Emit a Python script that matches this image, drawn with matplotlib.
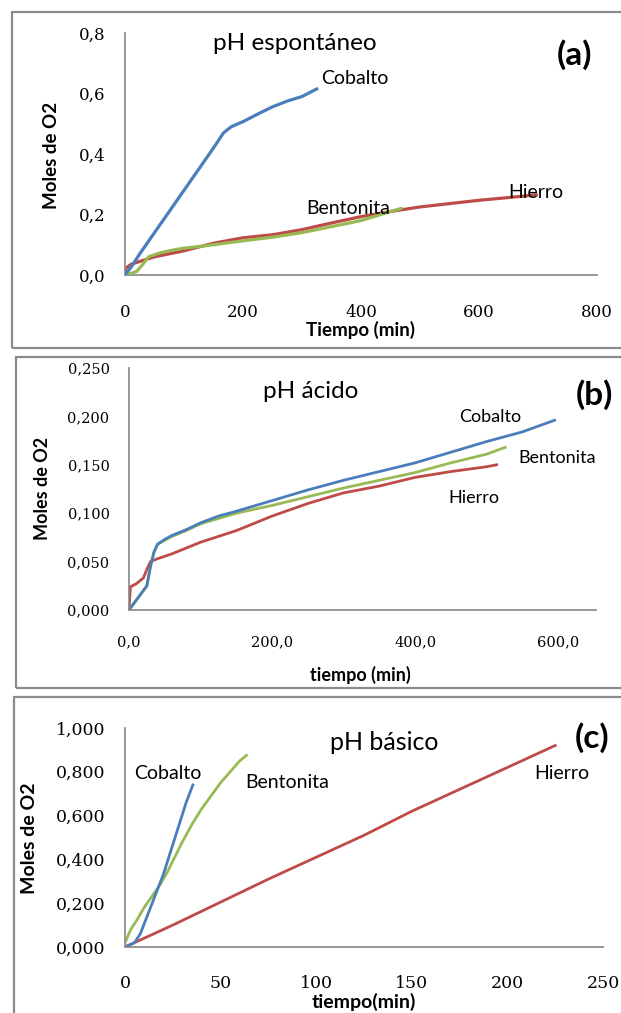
import matplotlib
matplotlib.use('Agg')
import matplotlib.pyplot as plt
from matplotlib.patches import Rectangle

# --- datos ---
# (a) pH espontaneo
co_a_t = [0, 10, 25, 50, 75, 100, 125, 150, 167, 180, 200, 225, 250, 275, 300, 325]
co_a_m = [0.0, 0.025, 0.07, 0.14, 0.21, 0.28, 0.35, 0.42, 0.47, 0.49, 0.507, 0.532, 0.556, 0.575, 0.59, 0.615]
hi_a_t = [0, 1, 10, 25, 50, 100, 150, 200, 250, 300, 350, 400, 450, 500, 550, 600, 650, 697]
hi_a_m = [0.0, 0.022, 0.035, 0.045, 0.06, 0.08, 0.105, 0.123, 0.133, 0.15, 0.172, 0.193, 0.21, 0.225, 0.236, 0.247, 0.256, 0.265]
be_a_t = [0, 10, 20, 30, 40, 57, 75, 97, 125, 150, 200, 250, 300, 350, 400, 450, 468]
be_a_m = [0.0, 0.005, 0.012, 0.035, 0.06, 0.072, 0.08, 0.088, 0.094, 0.1, 0.113, 0.125, 0.14, 0.16, 0.18, 0.21, 0.22]

# (b) pH acido
co_b_t = [0, 10, 20, 25, 30, 35, 40, 50, 60, 80, 100, 125, 150, 200, 250, 300, 350, 400, 450, 500, 550, 595]
co_b_m = [0, 0.01, 0.02, 0.025, 0.045, 0.06, 0.068, 0.073, 0.077, 0.083, 0.09, 0.097, 0.102, 0.113, 0.124, 0.134, 0.143, 0.152, 0.163, 0.174, 0.184, 0.196]
be_b_t = [0, 10, 20, 25, 30, 35, 40, 50, 60, 80, 100, 150, 200, 250, 300, 350, 400, 450, 500, 526]
be_b_m = [0, 0.01, 0.02, 0.025, 0.045, 0.06, 0.068, 0.072, 0.076, 0.082, 0.089, 0.1, 0.108, 0.117, 0.126, 0.134, 0.142, 0.152, 0.161, 0.168]
hi_b_t = [0, 2, 10, 20, 25, 30, 40, 60, 80, 100, 150, 200, 250, 300, 350, 400, 450, 500, 514]
hi_b_m = [0, 0.024, 0.027, 0.033, 0.042, 0.05, 0.053, 0.058, 0.064, 0.07, 0.082, 0.097, 0.11, 0.121, 0.128, 0.137, 0.143, 0.148, 0.150]

# (c) pH basico
co_c_t = [0, 5, 8, 12, 16, 20, 24, 28, 32, 35.5]
co_c_m = [0, 0.02, 0.06, 0.15, 0.24, 0.33, 0.44, 0.55, 0.66, 0.74]
be_c_t = [0, 3, 6, 10, 14, 18, 22, 26, 30, 35, 40, 45, 50, 55, 60, 63.5]
be_c_m = [0.02, 0.08, 0.12, 0.18, 0.23, 0.28, 0.34, 0.41, 0.48, 0.56, 0.63, 0.69, 0.75, 0.80, 0.85, 0.875]
hi_c_t = [0, 25, 50, 75, 100, 125, 150, 175, 200, 225]
hi_c_m = [0, 0.10, 0.205, 0.31, 0.41, 0.51, 0.62, 0.72, 0.82, 0.92]

xt_a = [0, 200, 400, 600, 800]
yt_a = [0.0, 0.2, 0.4, 0.6, 0.8]
xt_b = [0, 200, 400, 600]
yt_b = [0.0, 0.05, 0.10, 0.15, 0.20, 0.25]
xt_c = [0, 50, 100, 150, 200, 250]
yt_c = [0.0, 0.2, 0.4, 0.6, 0.8, 1.0]

AZUL = '#4A7EBB'
ROJO = '#BE4B48'
VERDE = '#98B954'
GRIS = '#868686'

W, H = 621, 1013
fig = plt.figure(figsize=(W / 100, H / 100), dpi=100)
fig.patch.set_facecolor('white')


def coma(v, dec):
    return f'{v:.{dec}f}'.replace('.', ',')


def panel(l, t, r, b):
    return fig.add_axes([l / W, 1 - b / H, (r - l) / W, (b - t) / H])


def borde(l, t, r, b):
    fig.patches.append(Rectangle((l / W, 1 - b / H), (r - l) / W, (b - t) / H,
                                 transform=fig.transFigure, fill=False,
                                 edgecolor='#8a8a8a', lw=1.6, clip_on=False))


def estilo(ax, xt, yt, xdec, ydec, fs, xpad, ypad):
    for s in ['top', 'right']:
        ax.spines[s].set_visible(False)
    for s in ['left', 'bottom']:
        ax.spines[s].set_color(GRIS)
        ax.spines[s].set_linewidth(1.2)
    ax.set_xticks(xt)
    ax.set_yticks(yt)
    ax.set_xticklabels([coma(v, xdec) for v in xt], family='DejaVu Serif', fontsize=fs)
    ax.set_yticklabels([coma(v, ydec) for v in yt], family='DejaVu Serif', fontsize=fs)
    ax.tick_params(axis='x', length=0, pad=xpad)
    ax.tick_params(axis='y', length=0, pad=ypad)


def etiquetas(ax, xl, yl, fs, xpos, ypos):
    ax.set_xlabel(xl, family='Lato', fontweight='bold', fontsize=fs)
    ax.set_ylabel(yl, family='Lato', fontweight='bold', fontsize=fs)
    ax.xaxis.set_label_coords(*xpos)
    ax.yaxis.set_label_coords(*ypos)
    ax.xaxis.label.set_va('center')
    ax.yaxis.label.set_va('center')


def texto_px(x, y, s, fs, bold=False):
    fig.text(x / W, 1 - y / H, s, ha='center', va='center', family='Lato',
             fontsize=fs, fontweight='bold' if bold else 'normal')


# bordes de los paneles
borde(12, 12, 640, 348)
borde(16, 357, 640, 688)
borde(14, 697, 640, 1030)

# ---------- (a) ----------
ax1 = panel(125, 33, 597, 275)
ax1.plot(be_a_t, be_a_m, color=VERDE, lw=2.3, zorder=3)
ax1.plot(hi_a_t, hi_a_m, color=ROJO, lw=2.3, zorder=2)
ax1.plot(co_a_t, co_a_m, color=AZUL, lw=2.3, zorder=4)
ax1.set_xlim(0, 800)
ax1.set_ylim(0, 0.8)
estilo(ax1, xt_a, yt_a, 0, 1, 12, 21, 14)
etiquetas(ax1, 'Tiempo (min)', 'Moles de O2', 13.5, (0.498, -0.227), (-0.155, 0.496))
ax1.text(332, 0.648, 'Cobalto', family='Lato', fontsize=14, va='center')
ax1.text(308, 0.221, 'Bentonita', family='Lato', fontsize=14, va='center')
ax1.text(649, 0.274, 'Hierro', family='Lato', fontsize=14, va='center')
texto_px(295, 43, 'pH espontáneo', 17.5)
texto_px(574, 55, '(a)', 24, bold=True)

# ---------- (b) ----------
ax2 = panel(129, 368, 596, 610)
ax2.plot(hi_b_t, hi_b_m, color=ROJO, lw=2.0)
ax2.plot(be_b_t, be_b_m, color=VERDE, lw=2.0)
ax2.plot(co_b_t, co_b_m, color=AZUL, lw=2.0)
ax2.set_xlim(0, 653)
ax2.set_ylim(0, 0.25)
estilo(ax2, xt_b, yt_b, 1, 3, 10.5, 18, 14)
etiquetas(ax2, 'tiempo (min)', 'Moles de O2', 13, (0.495, -0.269), (-0.186, 0.504))
ax2.text(461, 0.199, 'Cobalto', family='Lato', fontsize=13, va='center')
ax2.text(545, 0.157, 'Bentonita', family='Lato', fontsize=13, va='center')
ax2.text(446, 0.116, 'Hierro', family='Lato', fontsize=13, va='center')
texto_px(311, 392, 'pH ácido', 17.5)
texto_px(594, 395, '(b)', 24, bold=True)

# ---------- (c) ----------
ax3 = panel(125, 728, 603, 947)
ax3.plot(hi_c_t, hi_c_m, color=ROJO, lw=2.0)
ax3.plot(be_c_t, be_c_m, color=VERDE, lw=2.0)
ax3.plot(co_c_t, co_c_m, color=AZUL, lw=2.0)
ax3.set_xlim(0, 250)
ax3.set_ylim(0, 1.0)
estilo(ax3, xt_c, yt_c, 0, 3, 12.5, 20, 14)
etiquetas(ax3, 'tiempo(min)', 'Moles de O2', 14, (0.5, -0.251), (-0.199, 0.498))
ax3.text(5, 0.79, 'Cobalto', family='Lato', fontsize=14, va='center')
ax3.text(63, 0.75, 'Bentonita', family='Lato', fontsize=14, va='center')
ax3.text(214, 0.79, 'Hierro', family='Lato', fontsize=14, va='center')
texto_px(384, 742, 'pH básico', 18)
texto_px(592, 738, '(c)', 24, bold=True)

fig.savefig('out.png', dpi=100)
